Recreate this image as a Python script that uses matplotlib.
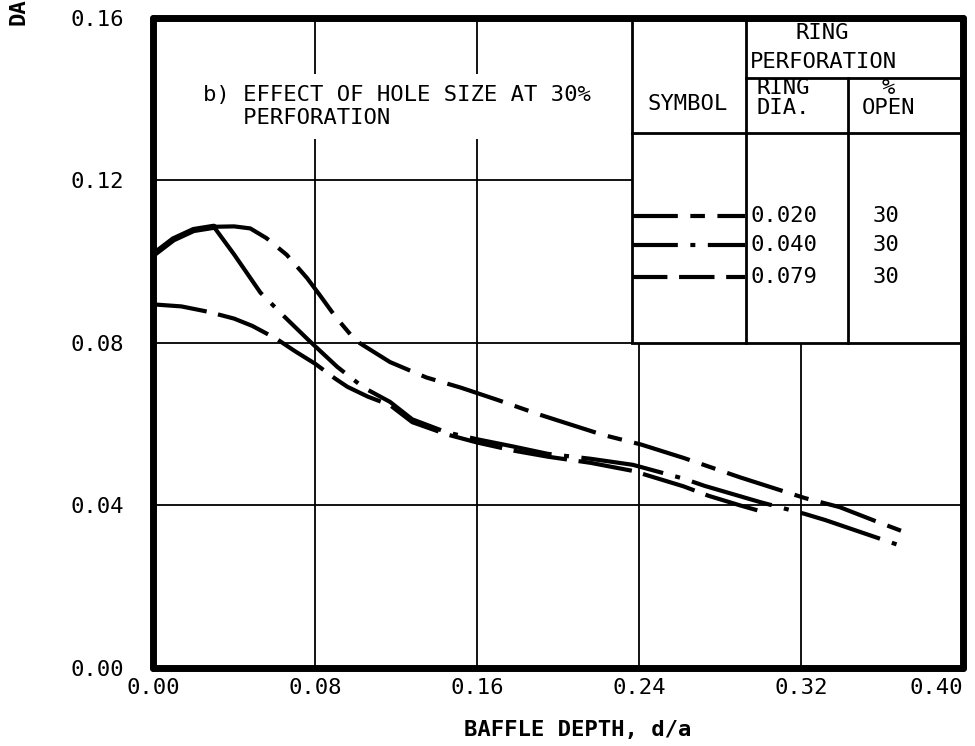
import numpy as np
import matplotlib.pyplot as plt
from matplotlib.patches import Rectangle

plt.rcParams['font.family'] = ['DejaVu Sans Mono', 'DejaVu Sans']

# ring dia 0.020, 30% open
x20 = [0.000, 0.010, 0.020, 0.030, 0.040, 0.048, 0.056, 0.066, 0.076, 0.082, 0.090,
       0.100, 0.117, 0.135, 0.152, 0.170, 0.190, 0.222, 0.241, 0.262, 0.290, 0.322,
       0.339, 0.356, 0.374]
y20 = [0.1017, 0.1055, 0.1078, 0.1086, 0.1087, 0.1082, 0.1058, 0.1017, 0.0960, 0.0920,
       0.0865, 0.0806, 0.0753, 0.0715, 0.0690, 0.0660, 0.0625, 0.0574, 0.0550, 0.0517,
       0.0469, 0.0418, 0.0396, 0.0363, 0.0329]

# ring dia 0.040, 30% open
x40 = [0.000, 0.010, 0.020, 0.030, 0.040, 0.053, 0.065, 0.077, 0.091, 0.104, 0.117,
       0.128, 0.145, 0.160, 0.178, 0.195, 0.216, 0.237, 0.262, 0.2725, 0.300, 0.322,
       0.332, 0.352, 0.372]
y40 = [0.1017, 0.1055, 0.1078, 0.1086, 0.1018, 0.0924, 0.0864, 0.0806, 0.0741, 0.0690,
       0.0655, 0.0612, 0.0580, 0.0563, 0.0545, 0.0527, 0.0515, 0.0500, 0.0466, 0.0448,
       0.0408, 0.0379, 0.0364, 0.0330, 0.0296]

# ring dia 0.079, 30% open
x79 = [0.000, 0.014, 0.027, 0.040, 0.049, 0.061, 0.070, 0.080, 0.090, 0.096, 0.106,
       0.117, 0.128, 0.145, 0.160, 0.178, 0.195, 0.216, 0.237, 0.262, 0.2742, 0.290,
       0.3027]
y79 = [0.0895, 0.0890, 0.0877, 0.0860, 0.0842, 0.0810, 0.0780, 0.0749, 0.0712, 0.0692,
       0.0668, 0.0647, 0.0605, 0.0575, 0.0555, 0.0535, 0.0520, 0.0505, 0.0485, 0.0447,
       0.0424, 0.0400, 0.0382]

ring_dia = ['0.020', '0.040', '0.079']
pct_open = ['30', '30', '30']
xticks = [0.00, 0.08, 0.16, 0.24, 0.32, 0.40]
yticks = [0.00, 0.04, 0.08, 0.12, 0.16]

ls20 = (0, (14, 3, 3.5, 3))
ls40 = (0, (20, 3, 1.2, 3))
ls79 = (0, (13, 2.8))

fig = plt.figure(figsize=(9.75, 7.46), dpi=100)
ax = fig.add_axes([0.157, 0.1046, 0.8308, 0.8713])

ax.set_xlim(0, 0.40)
ax.set_ylim(0, 0.16)
ax.set_xticks(xticks)
ax.set_yticks(yticks)
ax.set_xticklabels(['%.2f' % v for v in xticks], fontsize=16)
ax.set_yticklabels(['%.2f' % v for v in yticks], fontsize=16)
ax.get_xticklabels()[-1].set_ha('right')
ax.tick_params(axis='x', length=0, pad=7)
ax.tick_params(axis='y', length=0, pad=21)
ax.grid(True, color='black', lw=1.3)
ax.set_axisbelow(True)
for s in ax.spines.values():
    s.set_linewidth(5)
    s.set_capstyle('round')
    s.set_joinstyle('round')

lw = 3
ax.plot(x20[:4], y20[:4], color='black', lw=4.5, solid_capstyle='round', zorder=3)
ax.plot(x20[3:], y20[3:], color='black', lw=lw, ls=ls20, zorder=3)
ax.plot(x40[3:], y40[3:], color='black', lw=lw, ls=ls40, zorder=3)
ax.plot(x79, y79, color='black', lw=lw, ls=ls79, zorder=3)

# title box
ax.text(0.0245, 0.1382, 'b) EFFECT OF HOLE SIZE AT 30%\n   PERFORATION', fontsize=16,
        va='center', ha='left', linespacing=1.15,
        bbox=dict(facecolor='white', edgecolor='none', pad=8), zorder=2)

# table
tl, tv1, tv2 = 0.2365, 0.2927, 0.3431
ax.add_patch(Rectangle((tl, 0.08), 0.40 - tl, 0.08, facecolor='white',
                       edgecolor='black', lw=2, zorder=1.8))
ax.plot([tv1, tv1], [0.08, 0.16], color='black', lw=2, zorder=2)
ax.plot([tv2, tv2], [0.08, 0.1453], color='black', lw=2, zorder=2)
ax.plot([tv1, 0.40], [0.1453, 0.1453], color='black', lw=2, zorder=2)
ax.plot([tl, 0.40], [0.1316, 0.1316], color='black', lw=2, zorder=2)

ax.text(0.3306, 0.1564, 'RING', fontsize=16, ha='center', va='center')
ax.text(0.3311, 0.1491, 'PERFORATION', fontsize=16, ha='center', va='center')
ax.text(0.2639, 0.1389, 'SYMBOL', fontsize=16, ha='center', va='center')
ax.text(0.2978, 0.1403, 'RING\nDIA.', fontsize=16, ha='left', va='center', linespacing=1.0)
ax.text(0.3630, 0.1403, '%\nOPEN', fontsize=16, ha='center', va='center', linespacing=1.0)

row_y = [0.1113, 0.1040, 0.0962]
styles = [(0, (11, 3, 3.5, 3)), (0, (11, 3, 1.2, 3)), (0, (8.5, 2.8))]
for yy, st, d, p in zip(row_y, styles, ring_dia, pct_open):
    ax.plot([0.2367, 0.2922], [yy, yy], color='black', lw=lw, ls=st, zorder=3)
    ax.text(0.2951, yy, d, fontsize=16, ha='left', va='center')
    ax.text(0.3618, yy, p, fontsize=16, ha='center', va='center')

fig.text(0.592, 0.0214, 'BAFFLE DEPTH, d/a', fontsize=16, fontweight='bold',
         ha='center', va='center')
fig.text(0.009, 0.966, 'DA', rotation=90, fontsize=16, fontweight='bold',
         va='bottom', ha='left')

fig.savefig('out.png', dpi=100)
